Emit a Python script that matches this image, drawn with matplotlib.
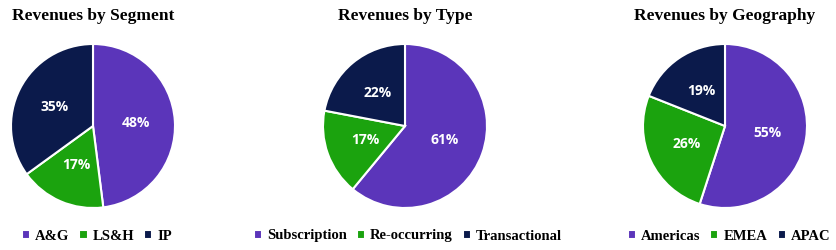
import matplotlib
matplotlib.use("Agg")
import matplotlib.pyplot as plt

# Data ........................................................................
titles = ["Revenues by Segment", "Revenues by Type", "Revenues by Geography"]

segment_labels = ["A&G", "LS&H", "IP"]
segment_values = [48, 17, 35]

type_labels = ["Subscription", "Re-occurring", "Transactional"]
type_values = [61, 17, 22]

geo_labels = ["Americas", "EMEA", "APAC"]
geo_values = [55, 26, 19]

colors = ["#5B35BA", "#1BA30E", "#0B1A4B"]

# Layout (pixels) ...............................................................
W, H = 837, 250
centers_x = [93, 405, 725]
center_y = 250 - 126
radius = 82
legend_x = [97, 408, 729]

fig = plt.figure(figsize=(W / 100, H / 100), dpi=100)
fig.patch.set_facecolor("white")

title_font = dict(family="Liberation Serif", weight="bold", size=12.5)
legend_font = dict(family="Liberation Serif", weight="bold", size=10.5)

all_labels = [segment_labels, type_labels, geo_labels]
all_values = [segment_values, type_values, geo_values]

for i in range(3):
    cx = centers_x[i]
    ax = fig.add_axes([(cx - radius) / W, (center_y - radius) / H,
                       2 * radius / W, 2 * radius / H])
    wedges, _, autotexts = ax.pie(
        all_values[i], colors=colors, startangle=90, counterclock=False,
        autopct="%d%%", pctdistance=0.52,
        wedgeprops=dict(edgecolor="white", linewidth=1.5),
        textprops=dict(color="white", family="Open Sans", weight="bold", size=10))
    ax.set_xlim(-1.0, 1.0)
    ax.set_ylim(-1.0, 1.0)
    ax.set_aspect("equal")

    fig.text(cx / W, 1 - 16 / H, titles[i], ha="center", va="center", **title_font)

    fig.legend(wedges, all_labels[i], loc="center",
               bbox_to_anchor=(legend_x[i] / W, 1 - 236 / H),
               ncol=3, frameon=False, prop=legend_font,
               handlelength=0.55, handleheight=0.55, handletextpad=0.35,
               columnspacing=0.7)

plt.savefig("out.png", dpi=100)
